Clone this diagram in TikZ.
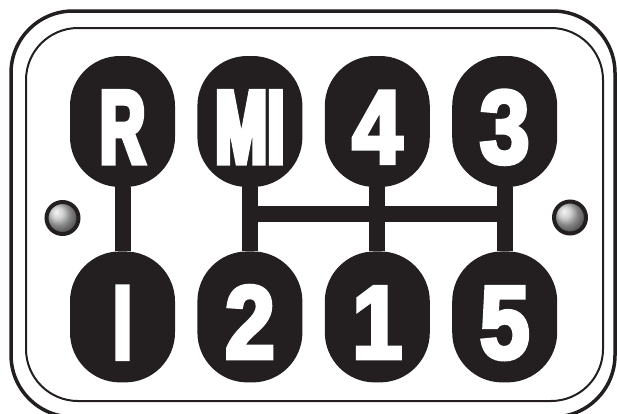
\documentclass[tikz,border=0pt]{standalone}
\usepackage{fontspec}
\usetikzlibrary{positioning}
\newfontfamily\gearfont[FakeStretch=0.86, FakeBold=4]{Liberation Sans}
\newfontfamily\gearnarrow[FakeStretch=0.6, FakeBold=5]{Liberation Sans}
\definecolor{plate}{HTML}{231F20}

\begin{document}
\begin{tikzpicture}[x=1pt, y=-1pt,
    gear/.style={fill=plate, rounded corners=50pt, minimum width=105pt,
      minimum height=131pt, inner sep=0pt, text=white,
      font=\fontsize{104}{104}\selectfont\bfseries,
      text height=83pt, text depth=0pt},
    rod/.style={draw=plate, line width=16pt},
    screw/.style={circle, draw=plate, line width=4pt, ball color=gray!50,
      minimum size=32pt, inner sep=0pt}]
  \clip (0,0) rectangle (617,413);
  % plate border
  \draw[plate, line width=3.5pt, rounded corners=62pt] (11,11) rectangle (615,417);
  \draw[plate, line width=2pt, rounded corners=52pt] (26,28) rectangle (603,401);

  % gear positions
  \node[gear] (R) at (122.5,121.5) {\gearnarrow R};
  \node[gear, right=22pt of R] (MI) {\gearnarrow MI};
  \node[gear, right=22pt of MI] (four) {\gearfont 4};
  \node[gear, right=22pt of four] (three) {\gearfont 3};
  \node[gear, below=64pt of R] (I) {\gearnarrow I};
  \node[gear, below=64pt of MI] (two) {\gearfont 2};
  \node[gear, below=64pt of four] (one) {\gearfont 1};
  \node[gear, below=64pt of three] (five) {\gearfont 5};

  % shift gate
  \draw[rod] (R) -- (I);
  \draw[rod] (MI) -- (two);
  \draw[rod] (four) -- (one);
  \draw[rod] (three) -- (five);
  \path (MI.south) ++(0,27) coordinate (barL);
  \draw[rod] (barL) -- (barL -| three.south);

  \node[screw] (boltL) at (62.5,218) {};
  \node[screw] (boltR) at (570,217.5) {};
\end{tikzpicture}
\end{document}
